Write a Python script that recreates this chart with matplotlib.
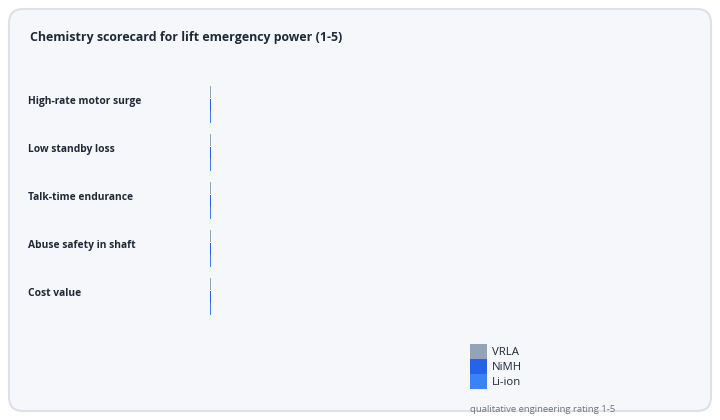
import matplotlib
matplotlib.use('Agg')
import matplotlib.pyplot as plt
import numpy as np
from matplotlib.patches import FancyBboxPatch, Patch
from matplotlib.transforms import blended_transform_factory

plt.rcParams['font.family'] = ['Open Sans', 'DejaVu Sans']

categories = ['High-rate motor surge', 'Low standby loss', 'Talk-time endurance',
              'Abuse safety in shaft', 'Cost value']
series = ['VRLA', 'NiMH', 'Li-ion']
# bars are captured at the very start of their grow-in, so they show as slivers
vrla = [0.015, 0.015, 0.015, 0.015, 0.015]
nimh = [0.02, 0.02, 0.02, 0.02, 0.02]
liion = [0.02, 0.02, 0.02, 0.02, 0.02]
colors = ['#94a3b8', '#2563eb', '#3b82f6']

fig = plt.figure(figsize=(7.2, 4.2), dpi=100)
fig.patch.set_facecolor('white')

# card behind everything
card = FancyBboxPatch((0.09, 0.09), 7.02, 4.02, boxstyle='round,pad=0,rounding_size=0.14',
                      transform=fig.dpi_scale_trans, facecolor='#f5f7fb',
                      edgecolor='#dde1e8', linewidth=1.5, zorder=-10)
fig.patches.append(card)

ax = fig.add_axes([209.5 / 720, 1 - 320.5 / 420, 490 / 720, 240 / 420])
ax.set_facecolor('none')

y = np.arange(len(categories))
h = 0.25
step = 0.27
for k, (vals, name) in enumerate(zip([vrla, nimh, liion], series)):
    ax.barh(y + (k - 1) * step, vals, height=h, color=colors[k], label=name)

ax.set_xlim(0, 5)
ax.set_ylim(len(categories) - 0.5, -0.5)
ax.set_xticks([])
ax.set_yticks([])
for s in ax.spines.values():
    s.set_visible(False)

tr = blended_transform_factory(fig.transFigure, ax.transData)
for i, cat in enumerate(categories):
    ax.text(28 / 720, i - 0.07, cat, transform=tr, ha='left', va='center',
            fontsize=7.4, fontweight='bold', color='#1f2937')

fig.text(30 / 720, 1 - 37 / 420, 'Chemistry scorecard for lift emergency power (1-5)',
         ha='left', va='center', fontsize=8.95, fontweight='bold', color='#1f2937')

handles = [Patch(facecolor=c, edgecolor='none') for c in colors]
fig.legend(handles, series, loc='upper left', bbox_to_anchor=(470 / 720, 1 - 343.5 / 420),
           frameon=False, fontsize=8.2, handlelength=1.5, handleheight=1.68,
           labelspacing=0, handletextpad=0.45, borderpad=0, borderaxespad=0,
           labelcolor='#1f2937')

fig.text(470 / 720, 1 - 410 / 420, 'qualitative engineering rating 1-5',
         ha='left', va='center', fontsize=6.8, color='#6b7280')

fig.savefig('out.png', dpi=100)
